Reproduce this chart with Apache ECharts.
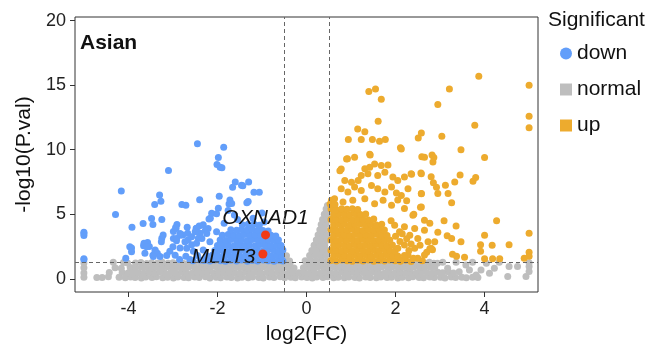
<!DOCTYPE html>
<html>
<head>
<meta charset="utf-8">
<script src="https://cdn.jsdelivr.net/npm/echarts@6.0.0/dist/echarts.min.js"></script>
<style>
  html, body { margin: 0; padding: 0; background: #fff; }
  #chart { width: 659px; height: 350px; }
</style>
</head>
<body>
<div id="chart"></div>
<script>
  // thresholds
  var fcCut = 0.5;
  var pCut = 1.3;
  var xTicks = [-4, -2, 0, 2, 4];
  var yTicks = [0, 5, 10, 15, 20];

  // normal genes (grey)
  var grayPts = [
    [-4.21,0.12],[-4.07,0.08],[-3.95,0.15],[-3.85,0.1],[-3.71,0.07],[-3.61,0.14],[-3.47,0.1],[-3.37,0.16],[-3.23,0.09],[-3.12,0.13],[-2.99,0.07],[-2.89,0.15],[-2.75,0.11],[-2.65,0.08],[-2.51,0.14],[-2.41,0.1],[-2.27,0.16],[-2.17,0.07],[-2.03,0.12],[-1.93,0.09],[-1.79,0.15],[-1.69,0.1],[-1.55,0.06],[-1.45,0.13],[-1.31,0.09],[-1.21,0.15],[-1.07,0.1],[-0.97,0.07],[-0.83,0.14],[-0.73,0.1],[-0.59,0.16],[-0.49,0.08],[-0.35,0.12],[-0.25,0.09],[-0.11,0.15],[0.01,0.1],[0.13,0.07],[0.23,0.14],[0.37,0.1],[0.47,0.16],[0.61,0.08],[0.71,0.12],[0.85,0.09],[0.95,0.15],[1.09,0.1],[1.19,0.07],[1.33,0.14],[1.43,0.11],[1.57,0.08],[1.67,0.15],[1.81,0.1],[1.91,0.13],[2.05,0.07],[2.15,0.12],[2.29,0.09],[2.39,0.16],[2.53,0.1],[2.63,0.08],[2.77,0.14],[2.87,0.1],[3.01,0.12],[3.11,0.07],[3.25,0.15],[3.35,0.1],[3.49,0.13],[3.59,0.08],[3.73,0.12],[3.85,0.1],
    [-4.14,0.5],[-4.01,0.46],[-3.9,0.53],[-3.77,0.48],[-3.66,0.44],[-3.53,0.51],[-3.42,0.47],[-3.29,0.54],[-3.18,0.45],[-3.05,0.5],[-2.94,0.46],[-2.81,0.52],[-2.7,0.48],[-2.57,0.44],[-2.46,0.51],[-2.33,0.47],[-2.22,0.53],[-2.09,0.45],[-1.98,0.5],[-1.85,0.46],[-1.74,0.52],[-1.61,0.48],[-1.5,0.44],[-1.37,0.51],[-1.26,0.47],[-1.13,0.53],[-1.02,0.45],[-0.89,0.5],[-0.78,0.46],[-0.65,0.52],[-0.54,0.48],[-0.41,0.44],[-0.3,0.51],[-0.17,0.47],[-0.06,0.53],[0.07,0.45],[0.18,0.5],[0.31,0.46],[0.42,0.52],[0.55,0.48],[0.66,0.44],[0.79,0.51],[0.9,0.47],[1.03,0.53],[1.14,0.45],[1.27,0.5],[1.38,0.46],[1.51,0.52],[1.62,0.48],[1.75,0.44],[1.86,0.51],[1.99,0.47],[2.1,0.53],[2.23,0.45],[2.34,0.5],[2.47,0.46],[2.58,0.52],[2.71,0.48],[2.82,0.44],[2.95,0.51],[3.06,0.47],[3.19,0.53],[3.3,0.45],
    [-3.96,0.88],[-3.84,0.85],[-3.71,0.92],[-3.6,0.87],[-3.47,0.84],[-3.36,0.91],[-3.23,0.86],[-3.12,0.93],[-2.99,0.85],[-2.88,0.9],[-2.75,0.86],[-2.64,0.92],[-2.51,0.88],[-2.4,0.84],[-2.27,0.91],[-2.16,0.87],[-2.03,0.93],[-1.92,0.85],[-1.79,0.9],[-1.68,0.86],[-1.55,0.92],[-1.44,0.88],[-1.31,0.84],[-1.2,0.91],[-1.07,0.87],[-0.96,0.93],[-0.83,0.85],[-0.72,0.9],[-0.59,0.86],[-0.48,0.92],[-0.37,0.88],[-0.28,0.84],[-0.07,0.86],[0.04,0.9],[0.14,0.86],[0.25,0.92],[0.38,0.88],[0.49,0.84],[0.62,0.91],[0.73,0.87],[0.86,0.93],[0.97,0.85],[1.1,0.9],[1.21,0.86],[1.34,0.92],[1.45,0.88],[1.58,0.84],[1.69,0.91],[1.82,0.87],[1.93,0.93],[2.06,0.85],[2.17,0.9],[2.3,0.86],[2.41,0.92],[2.54,0.88],[2.65,0.84],[2.78,0.91],[2.88,0.87],
    [-3.84,1.22],[-3.72,1.27],[-3.59,1.19],[-3.48,1.25],[-3.35,1.21],[-3.24,1.28],[-3.11,1.2],[-3.0,1.24],[-2.87,1.27],[-2.76,1.19],[-2.63,1.25],[-2.52,1.22],[-2.39,1.28],[-2.28,1.2],[-2.15,1.24],[-2.04,1.27],[-1.91,1.21],[-1.8,1.25],[-1.67,1.19],[-1.56,1.27],[-1.43,1.22],[-1.32,1.25],[-1.19,1.2],[-1.08,1.28],[-0.95,1.23],[-0.84,1.19],[-0.71,1.26],[-0.6,1.22],[-0.47,1.28],[-0.37,1.2],[0.0,1.25],[0.12,1.21],[0.25,1.27],[0.36,1.2],[0.49,1.24],[0.6,1.28],[0.73,1.21],[0.84,1.25],[0.97,1.19],[1.08,1.27],[1.21,1.23],[1.32,1.2],[1.45,1.26],[1.56,1.22],[1.69,1.28],[1.8,1.2],[1.93,1.24],[2.04,1.27],[2.17,1.21],[2.28,1.25],[2.41,1.19],[2.52,1.26],[2.65,1.22],[2.76,1.28],[2.86,1.2],
    [-0.46,1.5],[-0.45,1.78],[-0.38,1.38],
    [-0.03,1.4],[0.1,1.42],[0.22,1.38],[0.34,1.41],[0.46,1.39],[0.07,1.8],[0.19,1.82],[0.31,1.78],[0.43,1.81],[0.12,2.2],[0.24,2.22],[0.36,2.18],[0.47,2.21],[0.17,2.6],[0.29,2.62],[0.41,2.58],[0.22,3.0],[0.34,3.02],[0.46,2.98],[0.26,3.4],[0.37,3.42],[0.47,3.38],[0.3,3.8],[0.41,3.82],[0.33,4.2],[0.44,4.22],[0.36,4.6],[0.46,4.62],[0.4,5.0],[0.47,5.02],[0.44,5.4],[0.47,5.68],
    [-5,0.13],[-5,0.46],[-5,0.85],[-5,1.23],[-4.71,0.1],[-4.59,0.1],[-4.45,0.16],[-4.43,0.5],[-4.34,1.28],[-4.3,0.86],[-4.16,0.82],[-4.11,1.27],[-4.02,1.22],
    [2.94,1.21],[3.06,1.28],[3.17,0.82],[3.36,1.28],[3.43,0.55],[3.58,1.08],[3.66,0.69],[3.73,1.28],[3.81,0.3],[3.92,0.69],[4.04,1.2],[4.11,0.44],[4.22,0.82],[4.33,1.28],[4.52,0.18],[4.55,0.95],[4.74,0.95],[4.93,0.18],[5.0,0.57],[5.0,0.95],[5.0,1.25]
  ];

  // down-regulated genes (blue)
  var downPts = [
    [-2.3,1.42],[-2.17,1.38],[-2.06,1.45],[-1.93,1.4],[-1.82,1.36],[-1.7,1.44],[-1.57,1.39],[-1.46,1.46],[-1.33,1.37],[-1.22,1.42],[-1.1,1.38],[-0.97,1.45],[-0.86,1.4],[-0.73,1.36],[-0.62,1.43],[-0.53,1.39],
    [-2.24,1.78],[-2.11,1.84],[-2.0,1.8],[-1.87,1.76],[-1.76,1.83],[-1.63,1.79],[-1.52,1.85],[-1.39,1.77],[-1.28,1.82],[-1.15,1.78],[-1.04,1.84],[-0.91,1.8],[-0.8,1.76],[-0.67,1.83],[-0.56,1.79],
    [-2.06,2.2],[-1.93,2.24],[-1.82,2.17],[-1.69,2.22],[-1.58,2.18],[-1.45,2.25],[-1.34,2.2],[-1.21,2.16],[-1.1,2.23],[-0.97,2.19],[-0.86,2.25],[-0.73,2.2],[-0.62,2.16],[-0.53,2.23],
    [-2.0,2.58],[-1.87,2.63],[-1.76,2.6],[-1.63,2.56],[-1.52,2.64],[-1.39,2.59],[-1.28,2.62],[-1.15,2.57],[-1.04,2.65],[-0.91,2.6],[-0.8,2.56],[-0.67,2.63],[-0.57,2.58],
    [-1.94,3.0],[-1.81,2.96],[-1.7,3.04],[-1.57,2.99],[-1.46,3.02],[-1.33,2.97],[-1.22,3.05],[-1.09,3.0],[-0.98,2.96],[-0.85,3.03],[-0.74,2.99],[-0.63,3.01],
    [-1.89,3.38],[-1.76,3.43],[-1.64,3.4],[-1.51,3.36],[-1.4,3.44],[-1.27,3.39],[-1.16,3.42],[-1.03,3.37],[-0.92,3.45],[-0.8,3.38],[-0.69,3.32],
    [-1.7,3.8],[-1.57,3.76],[-1.46,3.83],[-1.33,3.79],[-1.22,3.84],[-1.09,3.78],[-0.98,3.74],[-0.86,3.7],
    [-1.44,4.18],[-1.31,4.22],[-1.18,4.25],[-1.06,4.15],[-1.85,4.3],[-1.55,4.6],[-1.2,4.7],[-0.95,4.4],[-1.62,4.95],[-1.0,5.1],
    [-2.45,10.46],[-1.86,10.2],[-1.98,9.4],[-2.01,8.85],[-1.9,8.6],[-3.1,8.4],[-1.6,7.5],[-1.66,7.1],[-1.43,7.2],[-1.3,7.5],[-1.18,6.7],[-1.06,6.7],[-4.16,6.8],[-3.3,6.5],[-3.27,6.0],[-3.41,5.75],[-2.8,5.75],[-2.71,5.7],[-2.4,6.13],[-1.96,6.4],[-1.72,6.1],[-1.74,5.8],[-1.34,5.9],[-4.29,4.98],[-3.92,4.0],[-3.45,4.2],[-3.25,4.6],[-2.91,4.2],[-2.93,3.9],[-2.68,4.0],[-2.48,3.9],[-2.41,4.1],[-2.21,3.9],[-2.16,4.7],[-5,3.6],[-5,3.35],[-5,1.56],
    [-3.93,2.38],[-3.66,2.56],[-3.57,2.82],[-3.53,2.5],[-4.06,1.6],[-3.45,1.82],[-3.4,2.13],[-3.14,1.8],[-3.25,3.15],[-2.99,3.67],[-2.94,3.98],[-2.92,2.95],[-2.84,2.38],[-2.95,1.82],[-2.78,3.4],[-2.67,3.54],[-2.66,3.02],[-2.58,2.64],[-2.54,2.13],[-2.71,1.75],[-2.47,3.92],[-2.39,3.54],[-2.43,3.15],[-2.32,4.18],[-2.27,3.79],[-2.19,4.64],[-2.13,5.08],[-1.98,5.46],
    [-1.94,8.65],[-1.46,7.25],[-1.31,5.98],[-2.02,5.05],[-1.76,5.3],[-1.68,5.83],[-2.84,3.38],[-2.99,3.13],
    [-3.67,4.28],[-3.48,4.67],[-3.97,2.49],[-3.93,2.1],[-3.65,2.75],[-3.59,2.49],[-3.4,2.23],[-3.35,1.98],[-3.44,1.72],[-3.26,2.88],[-3.22,3.39],
    [-3.07,2.13],[-3.0,2.49],[-2.92,3.13],[-2.84,3.52],[-2.73,2.88],[-2.69,2.36],[-2.58,3.26],[-2.5,3.65],[-2.47,2.75],[-2.35,3.13],[-2.32,2.23],[-2.24,3.52],[-2.17,2.88],[-2.02,3.65],[-1.94,2.62],
    [-5,3.52],[-5,1.5],[-3.63,1.98],[-3.29,1.72],[-2.62,1.5],[-2.45,1.8],[-2.55,1.4],[-2.38,1.45],[-2.85,1.5]
  ];

  // up-regulated genes (orange)
  var upPts = [
    [0.55,1.42],[0.67,1.38],[0.79,1.45],[0.91,1.4],[1.03,1.36],[1.15,1.44],[1.27,1.39],[1.39,1.46],[1.51,1.37],[1.63,1.42],[1.75,1.38],[1.87,1.45],[1.99,1.4],[2.11,1.36],[2.23,1.43],
    [0.61,1.78],[0.73,1.84],[0.85,1.8],[0.97,1.76],[1.09,1.83],[1.21,1.79],[1.33,1.85],[1.45,1.77],[1.57,1.82],[1.69,1.78],[1.81,1.84],[1.93,1.8],[2.05,1.76],
    [0.55,2.2],[0.67,2.24],[0.79,2.17],[0.91,2.22],[1.03,2.18],[1.15,2.25],[1.27,2.2],[1.39,2.16],[1.51,2.23],[1.63,2.19],[1.75,2.25],[1.87,2.2],[1.99,2.16],
    [0.61,2.58],[0.73,2.63],[0.85,2.6],[0.97,2.56],[1.09,2.64],[1.21,2.59],[1.33,2.62],[1.45,2.57],[1.57,2.65],[1.69,2.6],[1.81,2.56],[1.93,2.63],
    [0.55,3.0],[0.67,2.96],[0.79,3.04],[0.91,2.99],[1.03,3.02],[1.15,2.97],[1.27,3.05],[1.39,3.0],[1.51,2.96],[1.63,3.03],[1.75,2.99],[1.87,3.01],
    [0.61,3.38],[0.73,3.43],[0.85,3.4],[0.97,3.36],[1.09,3.44],[1.21,3.39],[1.33,3.42],[1.45,3.37],[1.57,3.45],[1.69,3.4],[1.81,3.36],
    [0.55,3.8],[0.67,3.76],[0.79,3.83],[0.91,3.79],[1.03,3.84],[1.15,3.78],[1.27,3.74],[1.39,3.82],[1.51,3.77],[1.63,3.83],[1.75,3.79],
    [0.61,4.18],[0.73,4.22],[0.85,4.25],[0.97,4.15],[1.09,4.2],[1.21,4.24],[1.33,4.17],[1.45,4.21],[1.57,4.16],[1.69,4.23],
    [0.55,4.6],[0.67,4.64],[0.79,4.57],[0.91,4.62],[1.03,4.58],[1.15,4.65],[1.27,4.6],[1.39,4.56],[1.51,4.63],
    [0.61,4.98],[0.73,5.03],[0.85,5.0],[0.97,4.96],[1.09,5.04],[1.21,4.99],[1.33,5.02],
    [0.55,5.4],[0.67,5.36],[0.79,5.43],[0.91,5.38],[1.03,5.42],[1.15,5.37],[0.53,5.8],[0.56,6.08],[0.64,5.75],
    [3.87,15.7],[5.0,15.0],[3.21,14.7],[1.55,14.7],[1.4,14.5],[1.68,13.9],[2.95,13.5],[1.61,12.2],[5.0,12.6],[5.0,11.7],[3.78,11.9],[1.15,11.6],[1.31,11.4],[2.58,11.3],[3.04,11.05],[0.94,10.8],[1.23,10.8],[1.48,10.8],[1.64,10.65],[1.77,10.8],[2.51,10.9],[2.11,10.15],[3.47,10.0],[0.92,9.3],[1.08,9.42],[1.42,9.65],[2.59,9.46],[2.82,9.6],[2.86,9.4],[2.84,9.05],[4.0,9.4],[0.78,8.5],[2.36,8.1],[2.57,8.2],[3.45,8.05],[3.8,7.85],[3.74,7.55],[3.33,7.5],[3.12,7.25],[2.8,7.9],[2.85,7.45],[2.92,7.1],[2.95,6.6],[3.18,6.6],[3.26,5.9],[2.58,6.6],[2.25,6.05],[2.56,5.55],[2.02,6.65],[2.05,6.1],[2.41,5.0],[2.77,4.3],[3.09,4.5],[3.36,4.1],[4.27,4.5],[3.16,3.33],[3.26,3.13],[3.47,2.87],[4.0,3.38],[5.0,3.54],[3.91,2.64],[3.91,2.13],[4.17,2.6],[4.55,2.64],[5.0,2.05],[5.0,1.75],[3.28,1.9],[3.37,1.75],[3.55,1.67],[4.0,1.55],[4.18,1.55],[4.34,1.55],[4.89,1.6],[2.88,2.87],[2.83,2.25],[2.95,3.6],[2.7,2.05],[2.77,2.33],
    [0.75,8.38],[0.9,9.28],[1.43,9.59],[2.13,10.05],[2.65,9.42],[1.31,8.52],[1.42,8.65],[1.53,8.9],[1.68,8.77],[1.83,8.82],[1.23,8.0],[1.38,8.13],[1.6,8.0],[1.76,8.26],[0.86,7.62],[1.01,7.49],[1.16,7.62],[1.94,7.88],[2.05,7.62],[2.2,7.88],[2.35,8.13],[2.58,8.13],[0.78,6.98],[0.93,6.72],[1.08,7.11],[1.23,6.85],[1.46,7.23],[1.6,6.98],[1.76,6.72],[1.91,7.11],[2.13,6.46],[2.28,6.98],[2.58,6.59],[0.63,6.21],[0.82,5.95],[1.04,6.08],[1.31,6.21],[1.53,5.82],[1.72,6.08],[1.91,5.69],[2.2,5.44],[2.39,4.92],[2.58,5.57],[2.65,4.54],
    [1.98,4.15],[2.09,3.65],[2.2,4.03],[2.32,3.38],[2.43,3.9],[2.5,3.13],[2.65,3.77],[2.73,2.88],[2.2,2.62],[2.43,2.36],[2.65,1.85],[2.05,2.36],[2.28,1.85],[2.5,1.6],[2.13,1.46],[2.35,1.35],[2.8,2.36],
    [2.1,2.9],[2.25,3.1],[2.0,3.3],[2.35,2.7],[2.15,3.5],[1.9,4.5],[2.3,2.2],[2.55,2.6],[2.4,1.6],[2.6,1.4],[2.2,1.8]
  ];

  // highlighted genes
  var hitNames = ['OXNAD1', 'MLLT3'];
  var hitPts = [[-0.92, 3.4], [-0.98, 1.92]];

  var font = 'Liberation Sans, Arial, sans-serif';
  var colGray = '#BEBEBE', colDown = '#629EFA', colUp = '#EDAB2E', colHit = '#F03A17';

  var chart = echarts.init(document.getElementById('chart'));

  chart.setOption({
    animation: false,
    backgroundColor: '#fff',
    textStyle: { fontFamily: font },
    grid: {
      left: 75, right: 121, top: 17, bottom: 56,
      show: true, borderColor: '#333', borderWidth: 1, backgroundColor: '#fff'
    },
    xAxis: {
      type: 'value', min: -5.2, max: 5.2,
      name: 'log2(FC)', nameLocation: 'middle', nameGap: 32,
      nameTextStyle: { fontSize: 21, color: '#111', fontFamily: font },
      splitLine: { show: false },
      axisLine: { show: false, onZero: false },
      axisTick: { show: true, length: 5, lineStyle: { color: '#333' }, customValues: xTicks },
      axisLabel: { fontSize: 18, color: '#222', margin: 8, customValues: xTicks, fontFamily: font }
    },
    yAxis: {
      type: 'value', min: -1.02, max: 20.28,
      name: '-log10(P.val)', nameLocation: 'middle', nameGap: 40,
      nameTextStyle: { fontSize: 21, color: '#111', fontFamily: font },
      splitLine: { show: false },
      axisLine: { show: false, onZero: false },
      axisTick: { show: true, length: 5, lineStyle: { color: '#333' }, customValues: yTicks },
      axisLabel: { fontSize: 18, color: '#222', margin: 9, customValues: yTicks, fontFamily: font }
    },
    legend: {
      orient: 'vertical', left: 555, top: 38, itemGap: 15,
      itemWidth: 12, itemHeight: 12,
      textStyle: { fontSize: 21, color: '#111', fontFamily: font },
      data: [
        { name: 'down', icon: 'circle' },
        { name: 'normal', icon: 'rect' },
        { name: 'up', icon: 'rect' }
      ]
    },
    graphic: [
      { type: 'text', left: 548, top: 10, style: { text: 'Significant', fontSize: 21, fill: '#111', fontFamily: font } },
      { type: 'text', left: 80, top: 33, style: { text: 'Asian', fontSize: 21, fontWeight: 'bold', fill: '#111', fontFamily: font } }
    ],
    series: [
      {
        name: 'normal', type: 'scatter', symbolSize: 7, data: grayPts,
        itemStyle: { color: colGray, opacity: 1 },
        markLine: {
          silent: true, symbol: 'none', animation: false,
          label: { show: false },
          lineStyle: { type: [4, 3], color: '#666', width: 1 },
          data: [{ xAxis: -fcCut }, { xAxis: fcCut }, { yAxis: pCut }]
        }
      },
      { name: 'down', type: 'scatter', symbolSize: 7, data: downPts, itemStyle: { color: colDown, opacity: 1 } },
      { name: 'up', type: 'scatter', symbolSize: 7, data: upPts, itemStyle: { color: colUp, opacity: 1 } },
      {
        name: 'hit', type: 'scatter', symbolSize: 9, itemStyle: { color: colHit, opacity: 1 },
        data: [
          { name: hitNames[0], value: hitPts[0], label: { show: true, position: 'top', distance: 2, offset: [0, 0] } },
          { name: hitNames[1], value: hitPts[1], label: { show: true, position: 'left', distance: 3, offset: [0, 3] } }
        ],
        label: { formatter: '{b}', fontSize: 21, fontStyle: 'italic', color: '#111', fontFamily: font }
      }
    ]
  });
</script>
</body>
</html>
